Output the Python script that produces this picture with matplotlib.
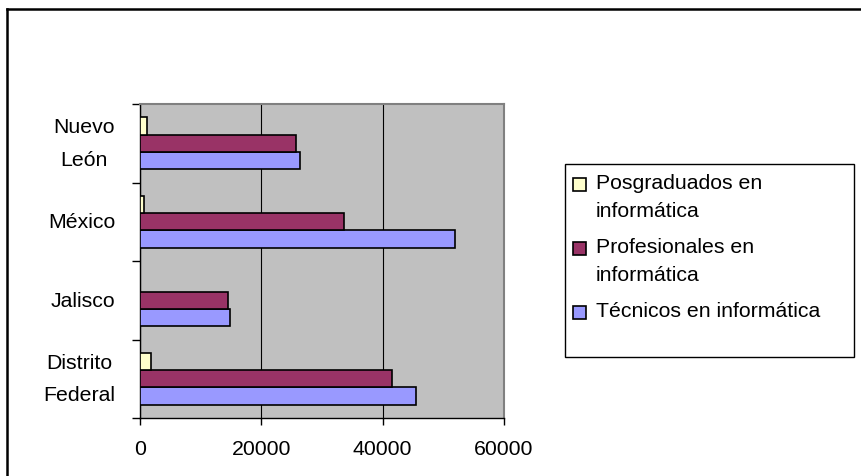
import numpy as np
import matplotlib
matplotlib.use('Agg')
import matplotlib.pyplot as plt
from matplotlib.patches import Rectangle
from matplotlib.lines import Line2D

# Datos
estados = ['Distrito\nFederal', 'Jalisco', 'México', 'Nuevo\nLeón']
tecnicos = [45500, 14900, 52000, 26300]
profesionales = [41600, 14500, 33600, 25700]
posgraduados = [1800, 0, 700, 1200]
series_nombres = ['Posgraduados en\ninformática', 'Profesionales en\ninformática',
                  'Técnicos en informática']
colores = ['#FFFFCC', '#993366', '#9999FF']
xticks = [0, 20000, 40000, 60000]

plt.rcParams['font.family'] = ['Liberation Sans', 'DejaVu Sans']

W, H = 861, 477
fig = plt.figure(figsize=(W / 100, H / 100), dpi=100)
ax = fig.add_axes([140 / W, (H - 419) / H, 364 / W, 314 / H])
ax.set_facecolor('#C0C0C0')

y = np.arange(len(estados))
h = 0.22
for i, vals in enumerate([tecnicos, profesionales, posgraduados]):
    ax.barh(y + (i - 1) * h, vals, height=h, color=colores[2 - i],
            edgecolor='black', linewidth=1.2, zorder=3)

ax.set_xlim(0, 60000)
ax.set_ylim(-0.5, len(estados) - 0.5)
ax.set_xticks(xticks)
ax.set_xticklabels([str(v) for v in xticks], fontsize=15.3)
ax.tick_params(axis='x', direction='out', length=5, width=1, pad=10)
ax.xaxis.grid(True, color='black', linewidth=0.8, zorder=1)

# marcas entre categorías, etiquetas en el centro
ax.set_yticks(np.arange(len(estados) + 1) - 0.5)
ax.set_yticklabels([])
ax.set_yticks(y, minor=True)
ax.set_yticklabels(estados, minor=True, fontsize=15.3, linespacing=1.9)
ax.tick_params(axis='y', which='major', direction='out', length=6, width=1)
ax.tick_params(axis='y', which='minor', length=0, pad=18)
for lab in ax.get_yticklabels(minor=True):
    lab.set_multialignment('center')
    lab.set_verticalalignment('center')

for s in ['top', 'right']:
    ax.spines[s].set_color('#808080')
    ax.spines[s].set_linewidth(1.5)
for s in ['left', 'bottom']:
    ax.spines[s].set_color('black')
    ax.spines[s].set_linewidth(1)

# leyenda dibujada a mano
fig.patches.append(Rectangle((565 / W, (H - 358) / H), 289 / W, 193 / H,
                             transform=fig.transFigure, facecolor='white',
                             edgecolor='black', linewidth=1))
entry_y = [185, 249, 313]
for nombre, col, ey in zip(series_nombres, colores, entry_y):
    fig.patches.append(Rectangle((573 / W, (H - ey - 7) / H), 13 / W, 13 / H,
                                 transform=fig.transFigure, facecolor=col,
                                 edgecolor='black', linewidth=1.2))
    fig.text(596 / W, (H - ey + 11) / H, nombre, fontsize=15.3, va='top',
             ha='left', linespacing=1.6)

# borde exterior
fig.add_artist(Line2D([7 / W, 7 / W], [0, (H - 10) / H], transform=fig.transFigure,
                      color='black', linewidth=1.8))
fig.add_artist(Line2D([7 / W, 1], [(H - 10) / H, (H - 10) / H], transform=fig.transFigure,
                      color='black', linewidth=1.8))

fig.savefig('out.png', dpi=100)
